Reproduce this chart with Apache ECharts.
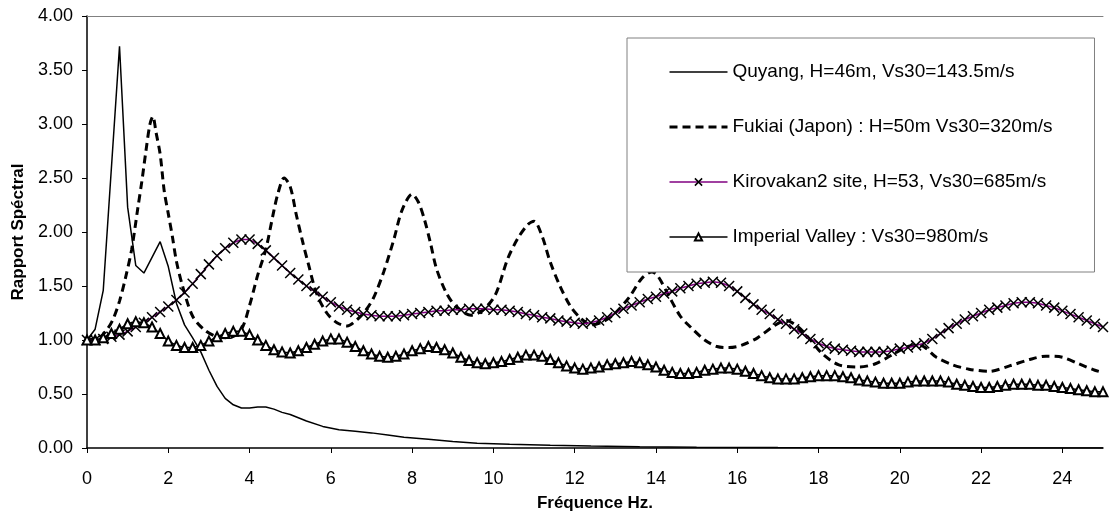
<!DOCTYPE html>
<html>
<head>
<meta charset="utf-8">
<script src="https://cdn.jsdelivr.net/npm/echarts@6/dist/echarts.min.js"></script>
<style>
  html, body { margin: 0; padding: 0; background: #fff; }
  #chart { width: 1110px; height: 515px; }
</style>
</head>
<body>
<div id="chart"></div>
<script>
// tick labels
var xTicks = [0, 2, 4, 6, 8, 10, 12, 14, 16, 18, 20, 22, 24];

var seriesNames = [
  "Quyang, H=46m, Vs30=143.5m/s",
  "Fukiai (Japon) : H=50m Vs30=320m/s",
  "Kirovakan2 site, H=53, Vs30=685m/s",
  "Imperial Valley : Vs30=980m/s"
];

// Quyang
var quyangFreq = [0, 0.2, 0.4, 0.8, 1.0, 1.2, 1.4, 1.8, 2.0, 2.2, 2.4, 2.6, 2.8, 3.0, 3.2, 3.4, 3.6, 3.8, 4.0, 4.2, 4.4, 4.6, 4.8, 5.0, 5.4, 5.8, 6.2, 6.6, 7.0, 7.4, 7.8, 8.4, 9.0, 9.6, 10.4, 11.4, 12.4, 13.6, 15, 17, 20, 25];
var quyangVal = [1.00, 1.10, 1.46, 3.72, 2.23, 1.69, 1.62, 1.91, 1.68, 1.34, 1.14, 1.02, 0.89, 0.72, 0.57, 0.46, 0.40, 0.37, 0.37, 0.38, 0.38, 0.36, 0.33, 0.31, 0.25, 0.20, 0.17, 0.155, 0.14, 0.12, 0.10, 0.08, 0.06, 0.045, 0.035, 0.025, 0.018, 0.012, 0.008, 0.004, 0.002, 0.001];

// Fukiai
var fukiaiFreq = [0, 0.3, 0.5, 0.65, 0.8, 0.95, 1.1, 1.25, 1.35, 1.45, 1.55, 1.62, 1.7, 1.8, 1.9, 2.0, 2.1, 2.2, 2.35, 2.6, 2.9, 3.2, 3.5, 3.8, 4.0, 4.2, 4.4, 4.6, 4.7, 4.85, 5.0, 5.15, 5.3, 5.45, 5.65, 5.9, 6.15, 6.4, 6.65, 6.85, 7.05, 7.3, 7.55, 7.75, 8.0, 8.15, 8.3, 8.45, 8.6, 8.85, 9.1, 9.45, 9.75, 10.05, 10.35, 10.6, 10.85, 11.0, 11.2, 11.4, 11.65, 11.9, 12.15, 12.4, 12.7, 13.0, 13.35, 13.65, 13.9, 14.05, 14.3, 14.6, 14.85, 15.2, 15.5, 15.8, 16.1, 16.5, 16.9, 17.2, 17.5, 17.8, 18.1, 18.5, 19.0, 19.4, 19.8, 20.2, 20.5, 20.9, 21.3, 21.7, 22.2, 22.7, 23.2, 23.6, 24.0, 24.4, 24.8, 25.0];
var fukiaiVal = [1.00, 1.02, 1.10, 1.20, 1.36, 1.58, 1.84, 2.22, 2.47, 2.75, 3.00, 3.07, 2.92, 2.72, 2.38, 2.17, 1.96, 1.73, 1.50, 1.22, 1.09, 1.03, 1.02, 1.10, 1.32, 1.60, 1.84, 2.20, 2.36, 2.50, 2.42, 2.16, 1.92, 1.70, 1.43, 1.25, 1.16, 1.13, 1.19, 1.27, 1.39, 1.63, 1.93, 2.20, 2.35, 2.28, 2.12, 1.90, 1.66, 1.43, 1.30, 1.23, 1.28, 1.42, 1.75, 1.94, 2.07, 2.10, 1.96, 1.72, 1.49, 1.31, 1.20, 1.14, 1.17, 1.25, 1.40, 1.57, 1.63, 1.59, 1.42, 1.22, 1.12, 1.00, 0.94, 0.93, 0.95, 1.02, 1.13, 1.18, 1.12, 1.00, 0.87, 0.77, 0.75, 0.78, 0.86, 0.94, 0.95, 0.84, 0.77, 0.73, 0.71, 0.76, 0.82, 0.85, 0.84, 0.78, 0.72, 0.70];

// Kirovakan2 and Imperial Valley share the 0.2 Hz grid
var gridFreq = [0, 0.2, 0.4, 0.6, 0.8, 1.0, 1.2, 1.4, 1.6, 1.8, 2.0, 2.2, 2.4, 2.6, 2.8, 3.0, 3.2, 3.4, 3.6, 3.8, 4.0, 4.2, 4.4, 4.6, 4.8, 5.0, 5.2, 5.4, 5.6, 5.8, 6.0, 6.2, 6.4, 6.6, 6.8, 7.0, 7.2, 7.4, 7.6, 7.8, 8.0, 8.2, 8.4, 8.6, 8.8, 9.0, 9.2, 9.4, 9.6, 9.8, 10.0, 10.2, 10.4, 10.6, 10.8, 11.0, 11.2, 11.4, 11.6, 11.8, 12.0, 12.2, 12.4, 12.6, 12.8, 13.0, 13.2, 13.4, 13.6, 13.8, 14.0, 14.2, 14.4, 14.6, 14.8, 15.0, 15.2, 15.4, 15.6, 15.8, 16.0, 16.2, 16.4, 16.6, 16.8, 17.0, 17.2, 17.4, 17.6, 17.8, 18.0, 18.2, 18.4, 18.6, 18.8, 19.0, 19.2, 19.4, 19.6, 19.8, 20.0, 20.2, 20.4, 20.6, 20.8, 21.0, 21.2, 21.4, 21.6, 21.8, 22.0, 22.2, 22.4, 22.6, 22.8, 23.0, 23.2, 23.4, 23.6, 23.8, 24.0, 24.2, 24.4, 24.6, 24.8, 25.0];
var kirovakanVal = [1.00, 1.00, 1.01, 1.03, 1.05, 1.08, 1.12, 1.16, 1.21, 1.26, 1.31, 1.37, 1.44, 1.52, 1.61, 1.70, 1.78, 1.85, 1.90, 1.93, 1.93, 1.89, 1.83, 1.76, 1.69, 1.62, 1.56, 1.50, 1.45, 1.40, 1.35, 1.31, 1.28, 1.26, 1.24, 1.23, 1.22, 1.22, 1.22, 1.23, 1.24, 1.25, 1.26, 1.27, 1.27, 1.28, 1.28, 1.29, 1.29, 1.29, 1.28, 1.28, 1.27, 1.26, 1.24, 1.23, 1.21, 1.20, 1.18, 1.17, 1.16, 1.15, 1.16, 1.18, 1.21, 1.25, 1.29, 1.32, 1.35, 1.38, 1.40, 1.43, 1.45, 1.48, 1.50, 1.52, 1.53, 1.54, 1.53, 1.50, 1.45, 1.39, 1.33, 1.28, 1.24, 1.19, 1.15, 1.10, 1.06, 1.01, 0.97, 0.94, 0.92, 0.91, 0.90, 0.89, 0.89, 0.89, 0.89, 0.90, 0.92, 0.93, 0.95, 0.97, 1.01, 1.06, 1.11, 1.15, 1.19, 1.22, 1.25, 1.28, 1.30, 1.32, 1.34, 1.35, 1.35, 1.34, 1.32, 1.30, 1.27, 1.24, 1.21, 1.18, 1.15, 1.12];
var imperialVal = [1.00, 1.00, 1.02, 1.06, 1.10, 1.15, 1.17, 1.16, 1.12, 1.06, 0.99, 0.95, 0.93, 0.93, 0.95, 0.99, 1.03, 1.06, 1.08, 1.08, 1.05, 1.00, 0.95, 0.91, 0.89, 0.88, 0.90, 0.93, 0.96, 0.99, 1.01, 1.01, 0.98, 0.94, 0.90, 0.87, 0.85, 0.84, 0.85, 0.87, 0.90, 0.92, 0.94, 0.93, 0.91, 0.88, 0.84, 0.81, 0.79, 0.78, 0.79, 0.80, 0.82, 0.84, 0.86, 0.86, 0.85, 0.82, 0.79, 0.76, 0.74, 0.73, 0.74, 0.75, 0.77, 0.78, 0.79, 0.80, 0.79, 0.77, 0.75, 0.72, 0.70, 0.69, 0.69, 0.70, 0.72, 0.73, 0.74, 0.74, 0.73, 0.71, 0.69, 0.67, 0.65, 0.64, 0.64, 0.64, 0.65, 0.66, 0.67, 0.67, 0.67, 0.66, 0.65, 0.63, 0.62, 0.61, 0.60, 0.60, 0.60, 0.61, 0.62, 0.62, 0.62, 0.62, 0.61, 0.59, 0.58, 0.57, 0.56, 0.56, 0.57, 0.58, 0.59, 0.59, 0.59, 0.58, 0.58, 0.57, 0.56, 0.55, 0.54, 0.53, 0.52, 0.52];

function pairs(xs, ys) {
  return xs.map(function (x, i) {
    return [x, ys[i]];
  });
}

var fontFamily = 'Arial, "Liberation Sans", sans-serif';
var crossPath = "path://M0,0L10,10M0,10L10,0";

var chart = echarts.init(document.getElementById("chart"));
var option = {
  animation: false,
  backgroundColor: "#fff",
  textStyle: { fontFamily: fontFamily },
  grid: { left: 87, top: 16, right: 7, bottom: 67, containLabel: false, outerBoundsMode: "none" },
  xAxis: [
    {
      type: "value",
      min: 0,
      max: 25,
      interval: 2,
      name: "Fréquence Hz.",
      nameLocation: "middle",
      nameGap: 47,
      nameTextStyle: { color: "#000", fontSize: 17, fontWeight: "bold", fontFamily: fontFamily },
      axisLine: { lineStyle: { color: "#000", width: 1.5 } },
      axisTick: { show: true, length: 5, lineStyle: { color: "#000" }, customValues: xTicks },
      axisLabel: { color: "#000", fontSize: 18, margin: 22, fontFamily: fontFamily, customValues: xTicks },
      splitLine: { show: false }
    },
    {
      type: "value",
      position: "top",
      min: 0,
      max: 25,
      axisLine: { show: true, lineStyle: { color: "#808080", width: 1 } },
      axisTick: { show: false },
      axisLabel: { show: false },
      splitLine: { show: false }
    }
  ],
  yAxis: {
    type: "value",
    min: 0,
    max: 4,
    interval: 0.5,
    name: "Rapport Spéctral",
    nameLocation: "middle",
    nameGap: 58,
    nameTextStyle: { color: "#000", fontSize: 17, fontWeight: "bold", fontFamily: fontFamily },
    axisLine: { show: true, lineStyle: { color: "#000", width: 1.5 } },
    axisTick: { show: true, length: 5, lineStyle: { color: "#000" } },
    axisLabel: {
      color: "#000",
      fontSize: 18,
      margin: 14,
      fontFamily: fontFamily,
      formatter: function (v) {
        return v.toFixed(2);
      }
    },
    splitLine: { show: false }
  },
  legend: {
    orient: "vertical",
    left: 627,
    top: 38,
    padding: [23, 42, 24, 41],
    itemGap: 33,
    itemWidth: 58,
    itemHeight: 9,
    backgroundColor: "#fff",
    borderColor: "#808080",
    borderWidth: 1,
    selectedMode: false,
    textStyle: { color: "#000", fontSize: 19, lineHeight: 22, fontFamily: fontFamily },
    data: [
      { name: seriesNames[0], itemStyle: { opacity: 0 }, lineStyle: { width: 1.5 } },
      { name: seriesNames[1], itemStyle: { opacity: 0 }, lineStyle: { width: 3 } },
      {
        name: seriesNames[2],
        itemStyle: { color: "none", borderColor: "#000", borderWidth: 1.5 },
        lineStyle: { width: 1.5 }
      },
      { name: seriesNames[3], lineStyle: { width: 1.5 } }
    ]
  },
  series: [
    {
      name: seriesNames[0],
      type: "line",
      data: pairs(quyangFreq, quyangVal),
      showSymbol: false,
      symbol: "none",
      itemStyle: { color: "#000", opacity: 0 },
      lineStyle: { color: "#000", width: 1.5 },
      z: 2
    },
    {
      name: seriesNames[1],
      type: "line",
      data: pairs(fukiaiFreq, fukiaiVal),
      smooth: 0.3,
      symbol: "none",
      itemStyle: { color: "#000", opacity: 0 },
      lineStyle: { color: "#000", width: 3, type: [8, 5] },
      z: 3
    },
    {
      name: seriesNames[2],
      type: "line",
      data: pairs(gridFreq, kirovakanVal),
      symbol: crossPath,
      symbolSize: 10,
      showAllSymbol: true,
      itemStyle: { color: "none", borderColor: "#000", borderWidth: 1.5 },
      lineStyle: { color: "#800080", width: 1.5 },
      z: 4
    },
    {
      name: seriesNames[3],
      type: "line",
      data: pairs(gridFreq, imperialVal),
      symbol: "emptyTriangle",
      symbolSize: 9,
      showAllSymbol: true,
      itemStyle: { color: "#000", borderWidth: 1.5 },
      lineStyle: { color: "#000", width: 1.5 },
      z: 5
    }
  ]
};
chart.setOption(option);
</script>
</body>
</html>
